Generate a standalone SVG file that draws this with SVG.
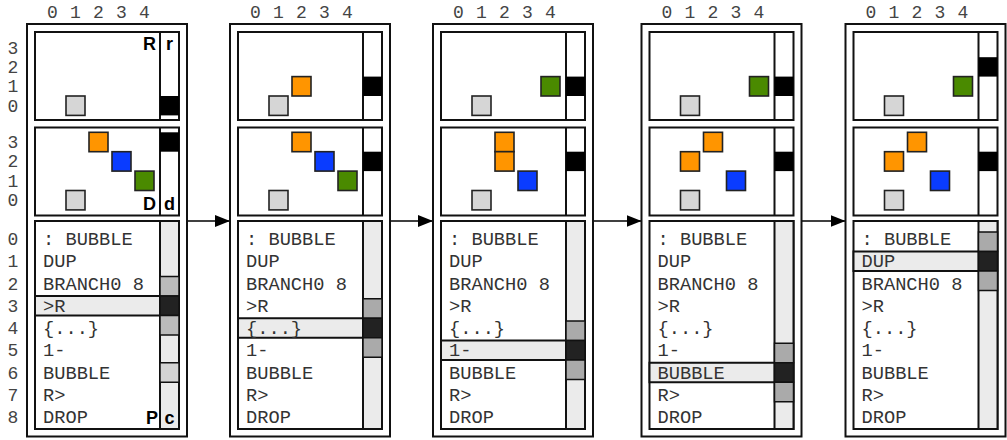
<svg xmlns="http://www.w3.org/2000/svg" width="1007" height="440" viewBox="0 0 1007 440">
<defs>
<style>
.box{fill:#fff;stroke:#111;stroke-width:2}
.col{fill:#ebebeb;stroke:#111;stroke-width:2}
.div{stroke:#111;stroke-width:2;fill:none}
.sq{stroke:#222;stroke-width:1.6}
.gray{fill:#d6d6d6}.org{fill:#ff9500}.blu{fill:#0a3cff}.grn{fill:#4a8a00}
.mk{fill:#000}
.hl{fill:#ebebeb;stroke:#111;stroke-width:2}
.seg{stroke:#111;stroke-width:1.5}
.s1{fill:#bbbbbb}.s2{fill:#aaaaaa}.sd{fill:#222}.sl{fill:#d3d3d3}
.code{font-family:"Liberation Mono",monospace;font-size:18.7px;fill:#333}
.lab{font-family:"Liberation Mono",monospace;font-size:18px;fill:#444;text-anchor:middle}
.big{font-family:"Liberation Sans",Arial,sans-serif;font-weight:bold;font-size:18px;fill:#000}
.conn{stroke:#000;stroke-width:1.5;fill:none}
</style>
<marker id="ah" markerUnits="userSpaceOnUse" markerWidth="16" markerHeight="12" refX="15" refY="6" orient="auto">
<path d="M0,0 L15,6 L0,12 Z" fill="#000"/>
</marker>
<g id="frame">
<rect class="box" x="0" y="24" width="160" height="412.5"/>
<rect class="box" x="8" y="32" width="144" height="88"/>
<line class="div" x1="133" y1="32" x2="133" y2="120"/>
<rect class="box" x="8" y="127.5" width="144" height="88"/>
<line class="div" x1="133" y1="127.5" x2="133" y2="215.5"/>
<rect class="box" x="8" y="221" width="144" height="208"/>
<rect class="col" x="133" y="221" width="19" height="208"/>
</g>
<g id="code">
<text class="code" x="16" y="245">: BUBBLE</text>
<text class="code" x="16" y="267.25">DUP</text>
<text class="code" x="16" y="289.5">BRANCH0 8</text>
<text class="code" x="16" y="311.75">&gt;R</text>
<text class="code" x="16" y="334">{...}</text>
<text class="code" x="16" y="356.25">1-</text>
<text class="code" x="16" y="378.5">BUBBLE</text>
<text class="code" x="16" y="400.75">R&gt;</text>
<text class="code" x="16" y="423">DROP</text>
</g>
<g id="toplab">
<text class="lab" x="25.5" y="18">0</text>
<text class="lab" x="48.5" y="18">1</text>
<text class="lab" x="71.5" y="18">2</text>
<text class="lab" x="94.5" y="18">3</text>
<text class="lab" x="117.5" y="18">4</text>
</g>
</defs>

<g id="rowlabels">
<text class="lab" x="13" y="53.5">3</text>
<text class="lab" x="13" y="72.9">2</text>
<text class="lab" x="13" y="92.3">1</text>
<text class="lab" x="13" y="111.7">0</text>
<text class="lab" x="13" y="148">3</text>
<text class="lab" x="13" y="167.4">2</text>
<text class="lab" x="13" y="186.8">1</text>
<text class="lab" x="13" y="206.2">0</text>
<text class="lab" x="13" y="245">0</text>
<text class="lab" x="13" y="267.25">1</text>
<text class="lab" x="13" y="289.5">2</text>
<text class="lab" x="13" y="311.75">3</text>
<text class="lab" x="13" y="334">4</text>
<text class="lab" x="13" y="356.25">5</text>
<text class="lab" x="13" y="378.5">6</text>
<text class="lab" x="13" y="400.75">7</text>
<text class="lab" x="13" y="423">8</text>
</g>

<g id="connectors">
<line class="conn" x1="187" y1="221" x2="230" y2="221" marker-end="url(#ah)"/>
<line class="conn" x1="390" y1="221" x2="433" y2="221" marker-end="url(#ah)"/>
<line class="conn" x1="593" y1="221" x2="641.5" y2="221" marker-end="url(#ah)"/>
<line class="conn" x1="801.5" y1="221" x2="845.5" y2="221" marker-end="url(#ah)"/>
</g>

<g id="panel1" transform="translate(27,0)">
<use href="#frame"/>
<use href="#toplab"/>
<rect class="mk" x="133" y="96" width="19" height="19.4"/>
<rect class="sq gray" x="39" y="96" width="19" height="19.4"/>
<rect class="mk" x="133" y="132.3" width="19" height="19.4"/>
<rect class="sq org" x="62" y="132.3" width="19" height="19.4"/>
<rect class="sq blu" x="85" y="151.7" width="19" height="19.4"/>
<rect class="sq grn" x="108" y="171.1" width="19" height="19.4"/>
<rect class="sq gray" x="39" y="190.5" width="19" height="19.4"/>
<rect class="hl" x="8" y="296" width="125" height="19.5"/>
<rect class="seg s1" x="133" y="276.5" width="19" height="19.5"/>
<rect class="seg sd" x="133" y="296" width="19" height="19.5"/>
<rect class="seg s1" x="133" y="315.5" width="19" height="19.5"/>
<rect class="seg sl" x="133" y="362.75" width="19" height="19.5"/>
<use href="#code"/>
<text class="big" x="129" y="50" text-anchor="end">R</text>
<text class="big" x="142.5" y="50" text-anchor="middle">r</text>
<text class="big" x="129" y="210" text-anchor="end">D</text>
<text class="big" x="142.5" y="210" text-anchor="middle">d</text>
<text class="big" x="131" y="423.5" text-anchor="end">P</text>
<text class="big" x="142.5" y="423.5" text-anchor="middle">c</text>
</g>

<g id="panel2" transform="translate(230,0)">
<use href="#frame"/>
<use href="#toplab"/>
<rect class="mk" x="133" y="76.6" width="19" height="19.4"/>
<rect class="sq org" x="62" y="76.6" width="19" height="19.4"/>
<rect class="sq gray" x="39" y="96" width="19" height="19.4"/>
<rect class="mk" x="133" y="151.7" width="19" height="19.4"/>
<rect class="sq org" x="62" y="132.3" width="19" height="19.4"/>
<rect class="sq blu" x="85" y="151.7" width="19" height="19.4"/>
<rect class="sq grn" x="108" y="171.1" width="19" height="19.4"/>
<rect class="sq gray" x="39" y="190.5" width="19" height="19.4"/>
<rect class="hl" x="8" y="318.25" width="125" height="19.5"/>
<rect class="seg s2" x="133" y="298.75" width="19" height="19.5"/>
<rect class="seg sd" x="133" y="318.25" width="19" height="19.5"/>
<rect class="seg s2" x="133" y="337.75" width="19" height="19.5"/>
<use href="#code"/>
</g>

<g id="panel3" transform="translate(433,0)">
<use href="#frame"/>
<use href="#toplab"/>
<rect class="mk" x="133" y="76.6" width="19" height="19.4"/>
<rect class="sq grn" x="108" y="76.6" width="19" height="19.4"/>
<rect class="sq gray" x="39" y="96" width="19" height="19.4"/>
<rect class="mk" x="133" y="151.7" width="19" height="19.4"/>
<rect class="sq org" x="62" y="132.3" width="19" height="19.4"/>
<rect class="sq org" x="62" y="151.7" width="19" height="19.4"/>
<rect class="sq blu" x="85" y="171.1" width="19" height="19.4"/>
<rect class="sq gray" x="39" y="190.5" width="19" height="19.4"/>
<rect class="hl" x="8" y="340.5" width="125" height="19.5"/>
<rect class="seg s2" x="133" y="321" width="19" height="19.5"/>
<rect class="seg sd" x="133" y="340.5" width="19" height="19.5"/>
<rect class="seg s2" x="133" y="360" width="19" height="19.5"/>
<use href="#code"/>
</g>

<g id="panel4" transform="translate(641.5,0)">
<use href="#frame"/>
<use href="#toplab"/>
<rect class="mk" x="133" y="76.6" width="19" height="19.4"/>
<rect class="sq grn" x="108" y="76.6" width="19" height="19.4"/>
<rect class="sq gray" x="39" y="96" width="19" height="19.4"/>
<rect class="mk" x="133" y="151.7" width="19" height="19.4"/>
<rect class="sq org" x="62" y="132.3" width="19" height="19.4"/>
<rect class="sq org" x="39" y="151.7" width="19" height="19.4"/>
<rect class="sq blu" x="85" y="171.1" width="19" height="19.4"/>
<rect class="sq gray" x="39" y="190.5" width="19" height="19.4"/>
<rect class="hl" x="8" y="362.75" width="125" height="19.5"/>
<rect class="seg s2" x="133" y="343.25" width="19" height="19.5"/>
<rect class="seg sd" x="133" y="362.75" width="19" height="19.5"/>
<rect class="seg s2" x="133" y="382.25" width="19" height="19.5"/>
<use href="#code"/>
</g>

<g id="panel5" transform="translate(845.5,0)">
<use href="#frame"/>
<use href="#toplab"/>
<rect class="mk" x="133" y="57.2" width="19" height="19.4"/>
<rect class="sq grn" x="108" y="76.6" width="19" height="19.4"/>
<rect class="sq gray" x="39" y="96" width="19" height="19.4"/>
<rect class="mk" x="133" y="151.7" width="19" height="19.4"/>
<rect class="sq org" x="62" y="132.3" width="19" height="19.4"/>
<rect class="sq org" x="39" y="151.7" width="19" height="19.4"/>
<rect class="sq blu" x="85" y="171.1" width="19" height="19.4"/>
<rect class="sq gray" x="39" y="190.5" width="19" height="19.4"/>
<rect class="hl" x="8" y="251.5" width="125" height="19.5"/>
<rect class="seg s2" x="133" y="232" width="19" height="19.5"/>
<rect class="seg sd" x="133" y="251.5" width="19" height="19.5"/>
<rect class="seg s2" x="133" y="271" width="19" height="19.5"/>
<use href="#code"/>
</g>
</svg>
